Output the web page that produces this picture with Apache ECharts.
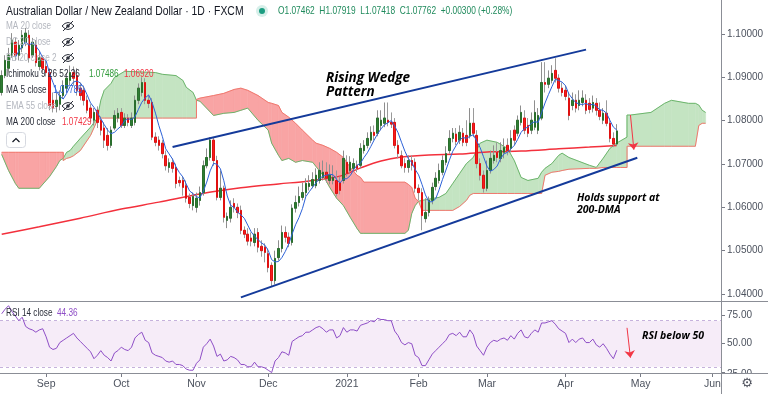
<!DOCTYPE html>
<html><head><meta charset="utf-8">
<script src="https://cdn.jsdelivr.net/npm/echarts@6/dist/echarts.min.js"></script>
<style>html,body{margin:0;padding:0;background:#fff}#c{width:768px;height:394px}</style>
</head><body><div id="c"></div>
<script>
// ---------- categories: daily (weekday) bars ----------
const firstDay = '2020-08-13';
const lastDay = '2021-06-03';
const dayZero = '2020-09-01'; // sparse series below are counted in bars from this day
const monthNames = ['Jan','Feb','Mar','Apr','May','Jun','Jul','Aug','Sep','Oct','Nov','Dec'];
function weekdays(a, b) {
  const out = []; let d = new Date(a + 'T00:00:00Z'); const e = new Date(b + 'T00:00:00Z');
  while (d <= e) { const w = d.getUTCDay(); if (w !== 0 && w !== 6) out.push(d.toISOString().slice(0, 10)); d = new Date(d.getTime() + 86400000); }
  return out;
}
const dates = weekdays(firstDay, lastDay);

// ---------- candles (AUD/NZD daily) ----------
const opens = [
1.0865,1.0904,1.0921,1.0951,1.0981,1.0951,1.0968,1.0981,1.0997,1.0951,1.0974,1.0925,1.0945,
1.0925,1.0911,1.0847,1.0833,1.0838,1.0858,1.0875,1.0893,1.0911,1.0904,
1.0875,1.0870,1.0847,1.0829,1.0801,1.0824,1.0801,1.0783,1.0766,1.0743,
1.0783,1.0806,1.0819,1.0789,1.0806,1.0789,1.0796,1.0847,1.0865,1.0888,
1.0847,1.0842,1.0762,1.0755,1.0748,1.0719,1.0692,1.0703,1.0692,1.0662,
1.0662,1.0650,1.0623,1.0604,1.0600,1.0616,1.0634,1.0696,1.0715,1.0755,
1.0708,1.0623,1.0644,1.0570,1.0575,1.0609,1.0600,1.0593,1.0547,1.0538,
1.0529,1.0519,1.0542,1.0510,1.0508,1.0493,1.0466,1.0431,1.0484,1.0505,
1.0542,1.0531,1.0519,1.0598,1.0611,1.0623,1.0634,1.0648,1.0650,1.0650,
1.0662,1.0669,1.0681,1.0662,1.0662,1.0662,1.0657,1.0662,1.0704,1.0685,
1.0690,1.0697,1.0697,1.0731,1.0743,1.0755,1.0773,1.0771,1.0789,1.0794,
1.0801,1.0796,1.0796,1.0743,1.0719,1.0701,1.0692,1.0708,1.0704,1.0644,
1.0634,1.0574,1.0588,1.0616,1.0648,1.0662,1.0681,1.0704,1.0731,1.0759,
1.0769,1.0755,1.0771,1.0766,1.0766,1.0794,1.0766,1.0701,1.0674,1.0644,
1.0685,1.0708,1.0727,1.0713,1.0727,1.0743,1.0736,1.0778,1.0771,1.0796,
1.0806,1.0789,1.0778,1.0785,1.0778,1.0806,1.0888,1.0884,1.0893,1.0916,
1.0898,1.0875,1.0870,1.0852,1.0835,1.0847,1.0835,1.0842,1.0847,1.0840,
1.0829,1.0840,1.0824,1.0801,1.0817,1.0794,1.0759,1.07462];
const closes = [
1.0904,1.0939,1.0951,1.0986,1.0951,1.0974,1.0997,1.1002,1.0945,1.0981,1.0934,1.0945,1.0921,
1.0911,1.0835,1.0829,1.0847,1.0858,1.0881,1.0898,1.0911,1.0898,1.0870,
1.0858,1.0847,1.0824,1.0806,1.0819,1.0796,1.0778,1.0755,1.0743,1.0778,
1.0812,1.0817,1.0789,1.0806,1.0796,1.0806,1.0847,1.0875,1.0888,1.0847,
1.0840,1.0762,1.0750,1.0743,1.0724,1.0696,1.0703,1.0690,1.0655,1.0657,
1.0646,1.0621,1.0609,1.0625,1.0621,1.0634,1.0696,1.0715,1.0755,1.0708,
1.0623,1.0644,1.0577,1.0579,1.0600,1.0600,1.0588,1.0547,1.0538,1.0522,
1.0522,1.0538,1.0508,1.0500,1.0496,1.0461,1.0431,1.0482,1.0505,1.0542,
1.0531,1.0517,1.0598,1.0611,1.0625,1.0634,1.0655,1.0655,1.0664,1.0674,
1.0685,1.0681,1.0667,1.0674,1.0669,1.0632,1.0639,1.0713,1.0678,1.0704,
1.0701,1.0690,1.0736,1.0743,1.0759,1.0773,1.0766,1.0806,1.0801,1.0806,
1.0796,1.0792,1.0743,1.0724,1.0696,1.0692,1.0708,1.0697,1.0644,1.0634,
1.0581,1.0588,1.0616,1.0646,1.0667,1.0685,1.0708,1.0724,1.0759,1.0771,
1.0752,1.0773,1.0750,1.0750,1.0794,1.0771,1.0701,1.0674,1.0644,1.0685,
1.0713,1.0720,1.0715,1.0731,1.0738,1.0731,1.0759,1.0755,1.0801,1.0819,
1.0778,1.0771,1.0801,1.0819,1.0812,1.0888,1.0884,1.0898,1.0909,1.0898,
1.0875,1.0865,1.0856,1.0812,1.0847,1.0829,1.0847,1.0852,1.0824,1.0826,
1.0842,1.0824,1.0810,1.0817,1.0794,1.0759,1.0746,1.07762];
const highs = [
1.0916,1.0951,1.0968,1.1002,1.0991,1.0986,1.1009,1.1014,1.1009,1.0991,1.0986,1.0958,1.0951,
1.0939,1.0921,1.0865,1.0865,1.0870,1.0893,1.0911,1.0927,1.0925,1.0921,
1.0888,1.0881,1.0858,1.0838,1.0829,1.0833,1.0810,1.0796,1.0783,1.0787,
1.0824,1.0829,1.0829,1.0817,1.0815,1.0819,1.0858,1.0886,1.0900,1.0898,
1.0858,1.0852,1.0773,1.0764,1.0755,1.0731,1.0713,1.0713,1.0701,1.0671,
1.0671,1.0662,1.0632,1.0634,1.0634,1.0648,1.0708,1.0736,1.0762,1.0762,
1.0719,1.0685,1.0650,1.0588,1.0616,1.0621,1.0609,1.0604,1.0556,1.0552,
1.0542,1.0552,1.0552,1.0524,1.0517,1.0505,1.0473,1.0500,1.0524,1.0558,
1.0556,1.0542,1.0607,1.0627,1.0648,1.0657,1.0667,1.0674,1.0681,1.0690,
1.0704,1.0708,1.0704,1.0699,1.0697,1.0685,1.0671,1.0731,1.0720,1.0718,
1.0713,1.0708,1.0748,1.0755,1.0773,1.0787,1.0789,1.0824,1.0824,1.0842,
1.0842,1.0819,1.0806,1.0755,1.0731,1.0713,1.0720,1.0720,1.0713,1.0653,
1.0644,1.0621,1.0625,1.0657,1.0681,1.0701,1.0720,1.0741,1.0778,1.0783,
1.0783,1.0789,1.0783,1.0801,1.0829,1.0829,1.0778,1.0713,1.0685,1.0708,
1.0731,1.0743,1.0750,1.0750,1.0759,1.0759,1.0778,1.0789,1.0812,1.0835,
1.0824,1.0806,1.0819,1.0847,1.0829,1.0935,1.0935,1.0916,1.0928,1.0944,
1.0907,1.0888,1.0881,1.0865,1.0865,1.0861,1.0870,1.0870,1.0861,1.0852,
1.0858,1.0852,1.0842,1.0829,1.0847,1.0806,1.0773,1.07919];
const lows = [
1.0858,1.0898,1.0911,1.0945,1.0939,1.0939,1.0958,1.0972,1.0934,1.0945,1.0925,1.0916,1.0911,
1.0902,1.0824,1.0819,1.0819,1.0824,1.0852,1.0865,1.0881,1.0881,1.0858,
1.0847,1.0835,1.0817,1.0796,1.0789,1.0783,1.0766,1.0737,1.0731,1.0737,
1.0778,1.0796,1.0783,1.0783,1.0787,1.0783,1.0789,1.0838,1.0856,1.0838,
1.0829,1.0755,1.0741,1.0731,1.0713,1.0685,1.0680,1.0680,1.0644,1.0648,
1.0627,1.0611,1.0598,1.0593,1.0588,1.0604,1.0627,1.0690,1.0708,1.0696,
1.0616,1.0616,1.0565,1.0552,1.0565,1.0588,1.0575,1.0538,1.0529,1.0512,
1.0510,1.0510,1.0496,1.0486,1.0473,1.0450,1.0417,1.0422,1.0477,1.0496,
1.0519,1.0508,1.0512,1.0588,1.0602,1.0616,1.0625,1.0639,1.0644,1.0644,
1.0655,1.0662,1.0657,1.0653,1.0653,1.0625,1.0630,1.0655,1.0671,1.0678,
1.0683,1.0681,1.0690,1.0724,1.0736,1.0748,1.0755,1.0764,1.0778,1.0785,
1.0787,1.0783,1.0736,1.0713,1.0690,1.0680,1.0680,1.0685,1.0634,1.0616,
1.0547,1.0565,1.0579,1.0607,1.0639,1.0655,1.0674,1.0697,1.0724,1.0750,
1.0743,1.0746,1.0741,1.0741,1.0759,1.0762,1.0690,1.0662,1.0634,1.0637,
1.0678,1.0701,1.0704,1.0704,1.0713,1.0720,1.0727,1.0743,1.0764,1.0789,
1.0769,1.0762,1.0769,1.0778,1.0769,1.0801,1.0865,1.0875,1.0886,1.0888,
1.0865,1.0856,1.0847,1.0801,1.0824,1.0819,1.0824,1.0833,1.0815,1.0817,
1.0819,1.0812,1.0801,1.0792,1.0787,1.0750,1.0739,1.07418];

// ---------- RSI 14 (one value per candle) ----------
const rsi = [
76,80,83,78,74,70,73,65,63,62,60,62,63,
56,47,45,46,51,53,55,57,59,55,
52,49,46,43,37,40,44,40,38,35,
42,44,47,45,44,47,55,58,60,53,
51,42,40,39,38,35,34,35,32,32,
31,28,27,27,33,36,47,50,54,48,
39,41,35,36,39,38,36,32,32,30,
30,34,30,30,29,27,25,35,38,43,
42,40,52,54,56,57,60,60,62,64,
65,63,60,62,62,55,57,64,60,62,
62,61,66,67,68,70,69,72,71,71,
70,70,61,57,51,49,51,50,40,38,
31,31,36,41,44,47,50,53,58,59,
57,60,56,56,62,58,48,44,40,47,
51,53,52,54,55,53,57,54,59,62,
56,55,59,62,60,68,68,69,70,67,
63,61,59,51,54,51,54,55,51,51,
54,49,47,50,46,41,37,44.36];

// ---------- MA 200 (sparse readings, bars from dayZero) ----------
const ma200Day = [-13,-2,10,22,33,45,57,68,77,86,92,98,104,112,121,130,139,150,159,167];
const ma200Val = [1.0538,1.0555,1.0575,1.0596,1.0612,1.0631,1.0645,1.0654,1.0661,1.0672,1.0691,1.0707,1.0716,1.0721,1.0723,1.0728,1.0730,1.0735,1.0739,1.07429];

// ---------- Ichimoku cloud: leading spans A and B (bars from dayZero) ----------
const cloudDay = [-13,-11,-9,-8,-2,0,1,3,4,5,5,6,7,8,10,13,15,16,17,19,20,23,32,34,38,40,41,43,44,44,
45,49,52,55,57,59,62,65,66,68,69,71,73,75,78,79,81,83,85,87,89,91,92,93,105,106,107,108,109,110,
115,117,119,121,123,124,125,127,129,132,135,137,139,141,144,145,146,148,150,151,153,159,161,163,165,
167,168,170,170,171,177,181,183,188,190,191,192,193];
const spanA = [1.0722,1.0685,1.0655,1.0644,1.0644,1.0662,1.0671,1.0694,1.0708,1.0713,1.0713,1.0727,1.0731,1.0741,1.0759,
1.0785,1.0806,1.0847,1.0870,1.0886,1.0900,1.0914,1.0911,1.0907,1.0904,1.0893,1.0877,1.0865,1.0847,1.0847,
1.0845,1.0812,1.0817,1.0819,1.0824,1.0829,1.0801,1.0778,1.0748,1.0720,1.0708,1.0713,1.0704,1.0708,1.0704,
1.0694,1.0674,1.0646,1.0621,1.0604,1.0577,1.0551,1.0540,1.0540,1.0540,1.0547,1.0586,1.0604,1.0614,1.0616,
1.0623,1.0632,1.0655,1.0678,1.0701,1.0708,1.0715,1.0748,1.0755,1.0750,1.0736,1.0708,1.0669,1.0662,1.0667,
1.0681,1.0690,1.0701,1.0720,1.0725,1.0715,1.0697,1.0692,1.0713,1.0736,
1.07486,1.0753,1.0762,1.0813,1.0813,1.0819,1.0840,1.0847,1.0840,1.0840,1.0836,1.0824,1.0819];
const spanB = [1.0727,1.0727,1.0727,1.0727,1.0727,1.0727,1.0727,1.0727,1.0727,1.0727,1.0708,1.0713,1.0715,1.0719,1.0731,
1.0766,1.0801,1.0806,1.0806,1.0806,1.0806,1.0806,1.0806,1.0806,1.0806,1.0806,1.0806,1.0806,1.0806,1.0849,
1.0852,1.0858,1.0863,1.0872,1.0875,1.0870,1.0858,1.0842,1.0840,1.0835,1.0819,1.0808,1.0794,1.0778,1.0755,
1.0748,1.0743,1.0736,1.0727,1.0715,1.0692,1.0674,1.0669,1.0658,1.0658,1.0653,1.0646,1.0621,1.0614,1.0593,
1.0593,1.0593,1.0593,1.0602,1.0616,1.0628,1.0632,1.0632,1.0632,1.0632,1.0632,1.0632,1.0632,1.0632,1.0632,
1.0632,1.0674,1.0681,1.0683,1.0685,1.0688,1.0690,1.0690,1.0692,1.0692,
1.06920,1.0692,1.0692,1.0741,1.0741,1.0741,1.0741,1.0741,1.0741,1.0741,1.0789,1.0794,1.0794];

// ---------- drawn annotations (bars from dayZero, prices) ----------
const wedgeUpper = [[37, 1.07394], [158, 1.09640]];
const wedgeLower = [[57, 1.03923], [173, 1.07143]];
const priceArrow = [[171, 1.0813], [172, 1.0733]];
const rsiArrow = [[170, 63.8], [171, 37.9]];

// ---------- axis ticks ----------
const priceTicks = [1.04, 1.05, 1.06, 1.07, 1.08, 1.09, 1.10];
const rsiTicks = [25, 50, 75];
const rsiLabels = [50, 75]; // 25.00 sits on the pane border and is half hidden

// ================= build =================
const off = dates.indexOf(dayZero);
const n = closes.length;
const last = n - 1;
const wickData = [], bodyData = [];
for (let k = 0; k < n; k++) {
  wickData.push([opens[k], closes[k], lows[k], highs[k]]);
  bodyData.push([opens[k], closes[k], Math.min(opens[k], closes[k]), Math.max(opens[k], closes[k])]);
}
const ma5 = [];
for (let k = 0; k < n; k++) {
  if (k < 4) { ma5.push('-'); continue; }
  let s = 0; for (let j = k - 4; j <= k; j++) s += closes[j];
  ma5.push(+(s / 5).toFixed(5));
}
const ma200Data = ma200Day.map((d, k) => [d + off, ma200Val[k]]);
const aLine = cloudDay.map((d, k) => [d + off, spanA[k]]);
const bLine = cloudDay.map((d, k) => [d + off, spanB[k]]);
const cloudSeg = [];
for (let k = 0; k < cloudDay.length - 1; k++) {
  cloudSeg.push([cloudDay[k] + off, spanA[k], spanB[k], cloudDay[k + 1] + off, spanA[k + 1], spanB[k + 1]]);
}
const sh = p => [p[0] + off, p[1]];

const G_FILL = '#c4e4c2', R_FILL = '#f9a4a4';
const NARROW = "'Liberation Sans',Arial,sans-serif";
const ANN = "'Open Sans','DejaVu Sans',sans-serif";
const SQ = 0.82; // horizontal squeeze of the screenshot's UI text

function isMonthStart(idx) {
  return idx > 0 && dates[idx] && dates[idx].slice(5, 7) !== dates[idx - 1].slice(5, 7);
}

const chart = echarts.init(document.getElementById('c'), null, { renderer: 'canvas' });

function eye(x, y) {
  return { type: 'group', x: x, y: y, z: 100, children: [
    { type: 'bezierCurve', shape: { x1: -6, y1: 0, x2: 6, y2: 0, cpx1: 0, cpy1: -7 }, style: { stroke: '#2a2e39', fill: null, lineWidth: 1 } },
    { type: 'bezierCurve', shape: { x1: -6, y1: 0, x2: 6, y2: 0, cpx1: 0, cpy1: 7 }, style: { stroke: '#2a2e39', fill: null, lineWidth: 1 } },
    { type: 'circle', shape: { cx: 0, cy: 0, r: 1.8 }, style: { fill: '#2a2e39' } },
    { type: 'line', shape: { x1: -5, y1: 5, x2: 5, y2: -5 }, style: { stroke: '#2a2e39', lineWidth: 1 } }
  ]};
}
function txt(x, y, s, color, size, extra, sx, z) {
  return { type: 'text', x: x, y: y, z: z == null ? 100 : z, scaleX: sx == null ? SQ : sx,
    style: Object.assign({ text: s, fill: color, fontSize: size, fontFamily: NARROW, verticalAlign: 'middle', align: 'left' }, extra || {}) };
}
const annStyle = { fontFamily: ANN, fontStyle: 'italic', fontWeight: 'bold' };

const option = {
  animation: false,
  backgroundColor: '#ffffff',
  grid: [
    { left: 0, top: 0, width: 721, height: 301 },
    { left: 0, top: 301, width: 721, height: 72 }
  ],
  xAxis: [
    { type: 'category', gridIndex: 0, data: dates, boundaryGap: true, show: false },
    { type: 'category', gridIndex: 1, data: dates, boundaryGap: true,
      axisLine: { show: false },
      axisTick: { show: true, interval: isMonthStart, alignWithLabel: true, length: 4, lineStyle: { color: '#787b86' } },
      axisLabel: { interval: isMonthStart, margin: 6, color: '#4c525e', fontSize: 10.5, fontFamily: NARROW,
        formatter: v => v.slice(5, 7) === '01' ? v.slice(0, 4) : monthNames[+v.slice(5, 7) - 1] },
      splitLine: { show: false } }
  ],
  yAxis: [
    { type: 'value', gridIndex: 0, position: 'right', min: 1.038385, max: 1.107847,
      axisLine: { show: false }, splitLine: { show: false },
      axisTick: { show: true, customValues: priceTicks, length: 4, lineStyle: { color: '#787b86' } },
      axisLabel: { customValues: priceTicks, margin: 6, color: '#4c525e', fontSize: 10, fontFamily: NARROW, formatter: v => v.toFixed(5) } },
    { type: 'value', gridIndex: 1, position: 'right', min: 24.6, max: 87.07,
      axisLine: { show: false }, splitLine: { show: false },
      axisTick: { show: true, customValues: rsiTicks, length: 4, lineStyle: { color: '#787b86' } },
      axisLabel: { customValues: rsiLabels, margin: 6, color: '#4c525e', fontSize: 10, fontFamily: NARROW, formatter: v => v.toFixed(2) } }
  ],
  series: [
    { name: 'cloud', type: 'custom', xAxisIndex: 0, yAxisIndex: 0, z: 1, silent: true,
      data: cloudSeg, encode: { x: [0, 3], y: [1, 2, 4, 5] },
      renderItem: function (params, api) {
        const x0 = api.value(0), a0 = api.value(1), b0 = api.value(2), x1 = api.value(3), a1 = api.value(4), b1 = api.value(5);
        const pa0 = api.coord([x0, a0]), pb0 = api.coord([x0, b0]), pa1 = api.coord([x1, a1]), pb1 = api.coord([x1, b1]);
        const d0 = a0 - b0, d1 = a1 - b1;
        const st = c => ({ fill: c, stroke: c, lineWidth: 0.6 });
        if (d0 * d1 < 0) {
          const t = d0 / (d0 - d1);
          const px = pa0[0] + t * (pa1[0] - pa0[0]);
          const py = pa0[1] + t * (pa1[1] - pa0[1]);
          return { type: 'group', children: [
            { type: 'polygon', shape: { points: [pa0, [px, py], pb0] }, style: st(d0 > 0 ? G_FILL : R_FILL) },
            { type: 'polygon', shape: { points: [[px, py], pa1, pb1] }, style: st(d1 > 0 ? G_FILL : R_FILL) }
          ]};
        }
        return { type: 'polygon', shape: { points: [pa0, pa1, pb1, pb0] }, style: st((d0 + d1) >= 0 ? G_FILL : R_FILL) };
      } },
    { name: 'Lead A', type: 'line', xAxisIndex: 0, yAxisIndex: 0, z: 2, data: aLine, showSymbol: false, silent: true,
      lineStyle: { color: '#6cb56c', width: 1 } },
    { name: 'Lead B', type: 'line', xAxisIndex: 0, yAxisIndex: 0, z: 2, data: bLine, showSymbol: false, silent: true,
      lineStyle: { color: '#f0786e', width: 1 } },
    { name: 'MA 200', type: 'line', xAxisIndex: 0, yAxisIndex: 0, z: 3, data: ma200Data, showSymbol: false, smooth: 0.35, silent: true,
      lineStyle: { color: '#f3303c', width: 1.5 } },
    { name: 'wicks', type: 'candlestick', xAxisIndex: 0, yAxisIndex: 0, z: 4, data: wickData, barWidth: 2, silent: true,
      itemStyle: { color: 'transparent', color0: 'transparent', borderColor: '#8e8e8e', borderColor0: '#9a9a9a', borderWidth: 1 } },
    { name: 'bodies', type: 'candlestick', xAxisIndex: 0, yAxisIndex: 0, z: 5, data: bodyData, barWidth: 2, silent: true,
      itemStyle: { color: '#2e7d32', color0: '#f51d1d', borderColor: '#2a6e2d', borderColor0: '#e01010', borderWidth: 1 },
      markLine: { silent: true, symbol: ['none', 'none'], animation: false,
        data: [{ yAxis: closes[last], lineStyle: { opacity: 0 },
          label: { show: true, position: 'end', distance: 1, formatter: closes[last].toFixed(5), color: '#ffffff',
            backgroundColor: '#2f7d24', fontWeight: 'bold', fontSize: 10.5, fontFamily: NARROW, padding: [2, 6, 1, 4] } }] } },
    { name: 'MA 5', type: 'line', xAxisIndex: 0, yAxisIndex: 0, z: 6, data: ma5, showSymbol: false, silent: true,
      lineStyle: { color: '#2d62d8', width: 1 } },
    { name: 'wedge upper', type: 'line', xAxisIndex: 0, yAxisIndex: 0, z: 7, data: wedgeUpper.map(sh), showSymbol: false, silent: true,
      lineStyle: { color: '#143a9a', width: 2 } },
    { name: 'wedge lower', type: 'line', xAxisIndex: 0, yAxisIndex: 0, z: 7, data: wedgeLower.map(sh), showSymbol: false, silent: true,
      lineStyle: { color: '#143a9a', width: 2 },
      markLine: { silent: true, symbol: ['none', 'arrow'], symbolSize: [8, 7], animation: false, label: { show: false },
        lineStyle: { color: '#f23645', width: 1, type: 'solid' },
        data: [[{ coord: sh(priceArrow[0]) }, { coord: sh(priceArrow[1]) }]] } },
    { name: 'RSI', type: 'line', xAxisIndex: 1, yAxisIndex: 1, z: 5, data: rsi, showSymbol: false, silent: true,
      lineStyle: { color: '#8e4ec6', width: 1 },
      markArea: { silent: true, itemStyle: { color: 'rgba(156,39,176,0.09)' }, data: [[{ yAxis: 30 }, { yAxis: 70 }]] },
      markLine: { silent: true, symbol: ['none', 'none'], animation: false, label: { show: false },
        lineStyle: { color: '#c6b2dc', width: 1, type: [3, 3] },
        data: [{ yAxis: 30 }, { yAxis: 70 }] } },
    { name: 'RSI arrow', type: 'line', xAxisIndex: 1, yAxisIndex: 1, z: 6, data: [], silent: true,
      markLine: { silent: true, symbol: ['none', 'arrow'], symbolSize: [8, 7], animation: false, label: { show: false },
        lineStyle: { color: '#f23645', width: 1, type: 'solid' },
        data: [[{ coord: sh(rsiArrow[0]) }, { coord: sh(rsiArrow[1]) }]] } }
  ],
  graphic: [
    // half-hidden 25.00 label on the pane border
    txt(727, 374, '25.00', '#4c525e', 10, null, 1, 40),
    // panel frame
    { type: 'line', z: 50, shape: { x1: 0, y1: 301.5, x2: 768, y2: 301.5 }, style: { stroke: '#8b8e96', lineWidth: 1 } },
    { type: 'rect', z: 49, shape: { x: 722, y: 374, width: 46, height: 20 }, style: { fill: '#ffffff' } },
    { type: 'line', z: 50, shape: { x1: 0, y1: 373.5, x2: 768, y2: 373.5 }, style: { stroke: '#8b8e96', lineWidth: 1 } },
    { type: 'line', z: 50, shape: { x1: 721.5, y1: 0, x2: 721.5, y2: 394 }, style: { stroke: '#8b8e96', lineWidth: 1 } },
    { type: 'text', x: 747, y: 384, z: 60, style: { text: '\u2699', fill: '#50535e', fontSize: 13, fontFamily: "'DejaVu Sans',sans-serif", align: 'center', verticalAlign: 'middle' } },
    // header legend
    txt(6, 11, 'Australian Dollar / New Zealand Dollar \u00b7 1D \u00b7 FXCM', '#131722', 13, null, 0.8),
    { type: 'circle', z: 100, shape: { cx: 262, cy: 11, r: 6 }, style: { fill: '#d6efe9' } },
    { type: 'circle', z: 101, shape: { cx: 262, cy: 11, r: 3 }, style: { fill: '#1c9d81' } },
    txt(278, 11, 'O1.07462  H1.07919  L1.07418  C1.07762  +0.00300 (+0.28%)', '#1f8a5c', 11, null, 0.76),
    txt(6, 26, 'MA 20 close', '#b4b7bf', 10), eye(68, 26),
    txt(6, 42, 'DC 20 close', '#b4b7bf', 10), eye(68, 42),
    txt(6, 58, 'BB 20 close 2', '#b4b7bf', 10), eye(68, 58),
    txt(6, 74, 'Ichimoku 9 26 52 26', '#2a2e39', 10),
    txt(89, 74, '1.07486', '#2f9a3a', 10),
    txt(124, 74, '1.06920', '#f23645', 10),
    txt(6, 90, 'MA 5 close', '#2a2e39', 10),
    txt(53, 90, '1.07785', '#2d62d8', 10),
    txt(6, 106, 'EMA 55 close', '#b4b7bf', 10), eye(68, 106),
    txt(6, 122, 'MA 200 close', '#2a2e39', 10),
    txt(62, 122, '1.07429', '#f23645', 10),
    { type: 'rect', z: 100, shape: { x: 6.5, y: 132.5, width: 19, height: 15, r: 3 }, style: { fill: '#ffffff', stroke: '#d6d9e0', lineWidth: 1 } },
    { type: 'polyline', z: 101, shape: { points: [[12.5, 142], [16, 138.5], [19.5, 142]] }, style: { stroke: '#131722', fill: null, lineWidth: 1.2 } },
    // RSI legend
    txt(6, 313, 'RSI 14 close', '#2a2e39', 10),
    txt(57, 313, '44.36', '#8e4ec6', 10),
    // annotations
    txt(326, 78, 'Rising Wedge', '#000000', 13.5, annStyle, 1),
    txt(326, 92, 'Pattern', '#000000', 13.5, annStyle, 1),
    txt(577, 198, 'Holds support at', '#000000', 10.5, annStyle, 1),
    txt(577, 210, '200-DMA', '#000000', 10.5, annStyle, 1),
    txt(642, 336, 'RSI below 50', '#000000', 10.5, annStyle, 1)
  ]
};
chart.setOption(option);
</script>
</body></html>
